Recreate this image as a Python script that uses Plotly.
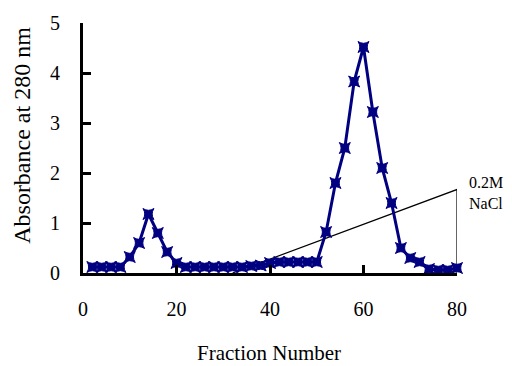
import plotly.graph_objects as go

fractions = list(range(2, 82, 2))
absorbance = [0.12, 0.12, 0.12, 0.12, 0.32, 0.60, 1.18, 0.80, 0.42, 0.20,
              0.12, 0.12, 0.12, 0.12, 0.12, 0.12, 0.12, 0.14, 0.15, 0.20,
              0.22, 0.22, 0.22, 0.22, 0.22, 0.82, 1.80, 2.50, 3.83, 4.52,
              3.22, 2.10, 1.40, 0.50, 0.30, 0.22, 0.08, 0.06, 0.06, 0.10]

gradient_x = [32, 80, 80]
gradient_y = [0, 1.67, 0]
gradient_label = "0.2M<br>NaCl"

x_ticks = [0, 20, 40, 60, 80]
y_ticks = [0, 1, 2, 3, 4, 5]

FONT = "Liberation Serif, Times New Roman, serif"

fig = go.Figure()
fig.add_trace(go.Scatter(x=gradient_x, y=gradient_y, mode="lines",
                         line=dict(color="black", width=1.2), showlegend=False,
                         cliponaxis=False))
fig.add_trace(go.Scatter(x=fractions, y=absorbance, mode="lines+markers",
                         line=dict(color="#000080", width=3),
                         marker=dict(symbol="star-square", size=10, color="#000080",
                                     line=dict(color="#000080", width=1)),
                         showlegend=False, cliponaxis=False))

fig.update_layout(
    width=512, height=366,
    margin=dict(l=83, r=55, t=20, b=93),
    paper_bgcolor="white", plot_bgcolor="white",
    font=dict(family=FONT, size=20, color="black"),
    xaxis=dict(range=[0, 80], tickvals=x_ticks, ticks="inside", ticklen=8,
               tickwidth=3, tickcolor="black", showline=True, linecolor="black",
               linewidth=3, showgrid=False, zeroline=False,
               ticklabelstandoff=16, tickfont=dict(family=FONT, size=20)),
    yaxis=dict(range=[0, 5], tickvals=y_ticks, ticks="inside", ticklen=8,
               tickwidth=3, tickcolor="black", showline=True, linecolor="black",
               linewidth=3, showgrid=False, zeroline=False,
               ticklabelstandoff=16, tickfont=dict(family=FONT, size=20)),
    annotations=[
        dict(text="Fraction Number", xref="paper", yref="paper", x=0.497, y=-0.32,
             xanchor="center", yanchor="middle", showarrow=False,
             font=dict(family=FONT, size=21)),
        dict(text="Absorbance at 280 nm", xref="paper", yref="paper", x=-0.165, y=0.55,
             xanchor="center", yanchor="middle", textangle=-90, showarrow=False,
             font=dict(family=FONT, size=24)),
        dict(text=gradient_label, xref="x", yref="y", x=gradient_x[1], y=gradient_y[1],
             xanchor="left", yanchor="middle", xshift=10, yshift=-3, showarrow=False,
             align="left", font=dict(family=FONT, size=16)),
    ],
)

fig.write_html("out.html")
